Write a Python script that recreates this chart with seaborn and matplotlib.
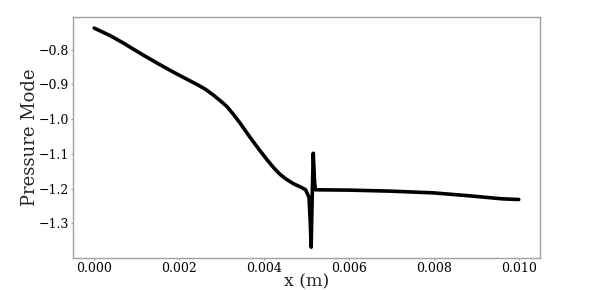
import matplotlib
matplotlib.use("Agg")
import matplotlib.pyplot as plt
import seaborn as sns
import pandas as pd

# position (m) and pressure mode
x_m = [0.0, 0.00038, 0.0007, 0.00109, 0.0015, 0.00187, 0.00215, 0.00242,
       0.00262, 0.00281, 0.00297, 0.00313, 0.00329, 0.00344, 0.0036,
       0.00376, 0.00392, 0.00408, 0.00423, 0.00438, 0.00454, 0.0047,
       0.00486, 0.00498, 0.00506, 0.00509, 0.00511, 0.00513,
       0.00516, 0.00519, 0.00521, 0.006, 0.007, 0.008, 0.0088, 0.0096, 0.01]
pressure = [-0.738, -0.760, -0.782, -0.811, -0.840, -0.865, -0.883, -0.900,
            -0.914, -0.931, -0.947, -0.964, -0.988, -1.012, -1.040,
            -1.067, -1.093, -1.118, -1.140, -1.159, -1.174, -1.186,
            -1.195, -1.203, -1.225, -1.30, -1.368, -1.25,
            -1.098, -1.18, -1.203, -1.204, -1.207, -1.212, -1.220, -1.229, -1.231]

df = pd.DataFrame({"x": x_m, "p": pressure})

sns.set_style("ticks")
plt.rcParams["font.family"] = ["DejaVu Serif"]
plt.rcParams["axes.edgecolor"] = "#a0a0a0"
plt.rcParams["xtick.color"] = "#a0a0a0"
plt.rcParams["ytick.color"] = "#a0a0a0"
plt.rcParams["xtick.labelcolor"] = "black"
plt.rcParams["ytick.labelcolor"] = "black"

fig = plt.figure(figsize=(5.98, 2.9), dpi=100)
ax = fig.add_axes([0.122, 0.110, 0.781, 0.831])
sns.lineplot(data=df, x="x", y="p", color="black", linewidth=2.6, ax=ax)

ax.set_xlabel("x (m)", fontsize=12.5)
ax.set_ylabel("Pressure Mode", fontsize=13)
ax.xaxis.set_label_coords(0.5, -0.062)
ax.yaxis.set_label_coords(-0.072, 0.5)
ax.set_xticks([0.0, 0.002, 0.004, 0.006, 0.008, 0.010])
ax.set_xticklabels(["0.000", "0.002", "0.004", "0.006", "0.008", "0.010"])
ax.set_yticks([-0.8, -0.9, -1.0, -1.1, -1.2, -1.3])
ax.set_yticklabels(["\u22120.8", "\u22120.9", "\u22121.0", "\u22121.1", "\u22121.2", "\u22121.3"])
ax.tick_params(labelsize=9, length=1.5, width=0.8, pad=1.5)
for s in ax.spines.values():
    s.set_linewidth(1.0)

fig.savefig("out.png", dpi=100)
